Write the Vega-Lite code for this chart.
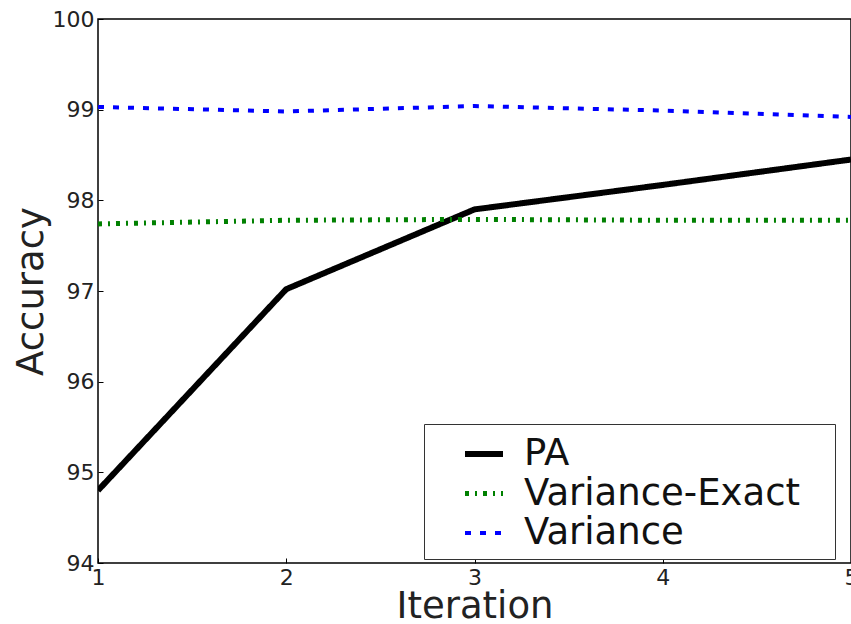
{
  "$schema": "https://vega.github.io/schema/vega-lite/v6.json",
  "autosize": "none",
  "width": 753,
  "height": 544,
  "padding": {"left": 98, "top": 19, "right": 0, "bottom": 61},
  "background": "white",
  "config": {
    "font": "DejaVu Sans",
    "view": {"stroke": "#000000", "strokeWidth": 1.5}
  },
  "data": {
    "values": [
      {"iteration": 1, "accuracy": 94.8, "method": "PA"},
      {"iteration": 2, "accuracy": 97.02, "method": "PA"},
      {"iteration": 3, "accuracy": 97.9, "method": "PA"},
      {"iteration": 4, "accuracy": 98.17, "method": "PA"},
      {"iteration": 5, "accuracy": 98.45, "method": "PA"},
      {"iteration": 1, "accuracy": 97.74, "method": "Variance-Exact"},
      {"iteration": 2, "accuracy": 97.78, "method": "Variance-Exact"},
      {"iteration": 3, "accuracy": 97.79, "method": "Variance-Exact"},
      {"iteration": 4, "accuracy": 97.78, "method": "Variance-Exact"},
      {"iteration": 5, "accuracy": 97.78, "method": "Variance-Exact"},
      {"iteration": 1, "accuracy": 99.03, "method": "Variance"},
      {"iteration": 2, "accuracy": 98.98, "method": "Variance"},
      {"iteration": 3, "accuracy": 99.04, "method": "Variance"},
      {"iteration": 4, "accuracy": 98.99, "method": "Variance"},
      {"iteration": 5, "accuracy": 98.92, "method": "Variance"}
    ]
  },
  "mark": {"type": "line", "clip": true},
  "encoding": {
    "x": {
      "field": "iteration",
      "type": "quantitative",
      "scale": {"domain": [1, 5], "nice": false, "zero": false},
      "axis": {
        "title": "Iteration",
        "values": [1, 2, 3, 4, 5],
        "format": "d",
        "grid": false,
        "domain": false,
        "tickSize": -5,
        "tickColor": "#000000",
        "labelFontSize": 22,
        "labelColor": "#222222",
        "labelPadding": 9,
        "labelOverlap": false,
        "labelFlush": false,
        "titleFontSize": 37,
        "titleFontWeight": "normal",
        "titleColor": "#222222",
        "titlePadding": 0
      }
    },
    "y": {
      "field": "accuracy",
      "type": "quantitative",
      "scale": {"domain": [94, 100], "nice": false, "zero": false},
      "axis": {
        "title": "Accuracy",
        "values": [94, 95, 96, 97, 98, 99, 100],
        "grid": false,
        "domain": false,
        "tickSize": -5,
        "tickColor": "#000000",
        "labelFontSize": 22,
        "labelColor": "#222222",
        "labelPadding": 9,
        "labelOverlap": false,
        "labelFlush": false,
        "titleFontSize": 37,
        "titleFontWeight": "normal",
        "titleColor": "#222222",
        "titlePadding": 2
      }
    },
    "color": {
      "field": "method",
      "type": "nominal",
      "scale": {"domain": ["PA", "Variance-Exact", "Variance"], "range": ["#000000", "#008000", "#0000ff"]},
      "legend": {
        "title": "\u2003",
        "titleOrient": "right",
        "titleFontSize": 4,
        "titlePadding": 27,
        "orient": "none",
        "legendX": 326,
        "legendY": 405,
        "strokeColor": "#333333",
        "fillColor": "#ffffff",
        "padding": 8,
        "symbolType": "stroke",
        "symbolSize": 1444,
        "symbolStrokeWidth": 6,
        "symbolOffset": 30,
        "labelFontSize": 37,
        "labelColor": "#111111",
        "labelOffset": 18,
        "rowPadding": 0,
        "labelLimit": 400
      }
    },
    "strokeDash": {
      "field": "method",
      "type": "nominal",
      "scale": {"domain": ["PA", "Variance-Exact", "Variance"], "range": [[1, 0], [4, 6, 2, 6], [6, 9]]},
      "legend": null
    },
    "strokeWidth": {
      "field": "method",
      "type": "nominal",
      "scale": {"domain": ["PA", "Variance-Exact", "Variance"], "range": [6, 4, 7]},
      "legend": null
    }
  }
}
